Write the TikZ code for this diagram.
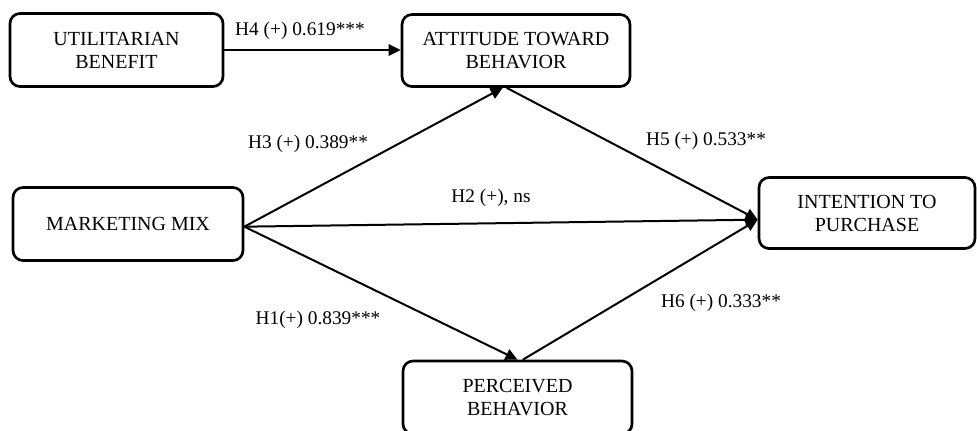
\documentclass[tikz,border=0pt]{standalone}
\usepackage{fontspec}
\setmainfont{Liberation Serif}
\usetikzlibrary{arrows.meta}

\begin{document}
\begin{tikzpicture}[x=0.75pt,y=-0.75pt,
        construct/.style={draw,line width=2pt,rounded corners=7.5pt,
            align=center,inner sep=0pt,
            font=\fontsize{15}{17.25}\selectfont},
        hyp/.style={line width=1.5pt,
            -{Triangle[length=9pt,width=8.5pt]}},
        coeff/.style={inner sep=0pt,
            font=\fontsize{14.5}{17}\selectfont}]
                \useasboundingbox (0,0) rectangle (977,430);
                \node[construct,minimum width=159.75pt,minimum height=54.75pt]
                    (util) at (116.5,50) {UTILITARIAN\\BENEFIT};
                \node[construct,minimum width=171pt,minimum height=54pt]
                    (att) at (516,50.5) {ATTITUDE TOWARD\\BEHAVIOR};
                \node[construct,minimum width=172.5pt,minimum height=54.75pt]
                    (mm) at (128,224) {MARKETING MIX};
                \node[construct,minimum width=162pt,minimum height=53.25pt]
                    (int) at (867,213) {INTENTION TO\\PURCHASE};
                \node[construct,minimum width=171.75pt,minimum height=54.75pt]
                    (perc) at (517.5,397.5) {PERCEIVED\\BEHAVIOR};
                \draw[hyp]
                    (util.east) -- (util.east -| att.west);
                \draw[hyp]
                    ([yshift=-2pt]mm.east) -- ([xshift=-10pt]att.south);
                \draw[hyp]
                    ([yshift=-2pt]mm.east) -- ([yshift=-5pt]int.west);
                \draw[hyp]
                    ([yshift=-2pt]mm.east) -- (perc.north);
                \draw[hyp]
                    ([xshift=-7pt]att.south) -- ([yshift=-5pt]int.west);
                \draw[hyp]
                    ([xshift=4pt]perc.north) -- ([yshift=-5pt]int.west);
                \node[coeff] (h4) at (300,30.5) {H4 (+) 0.619***};
                \node[coeff] (h3) at (308,144) {H3 (+) 0.389**};
                \node[coeff] (h2) at (491,198) {H2 (+), ns};
                \node[coeff] (h5) at (706,141) {H5 (+) 0.533**};
                \node[coeff] (h1) at (318,320) {H1(+) 0.839***};
                \node[coeff] (h6) at (721,303) {H6 (+) 0.333**};
            \end{tikzpicture}
\end{document}
